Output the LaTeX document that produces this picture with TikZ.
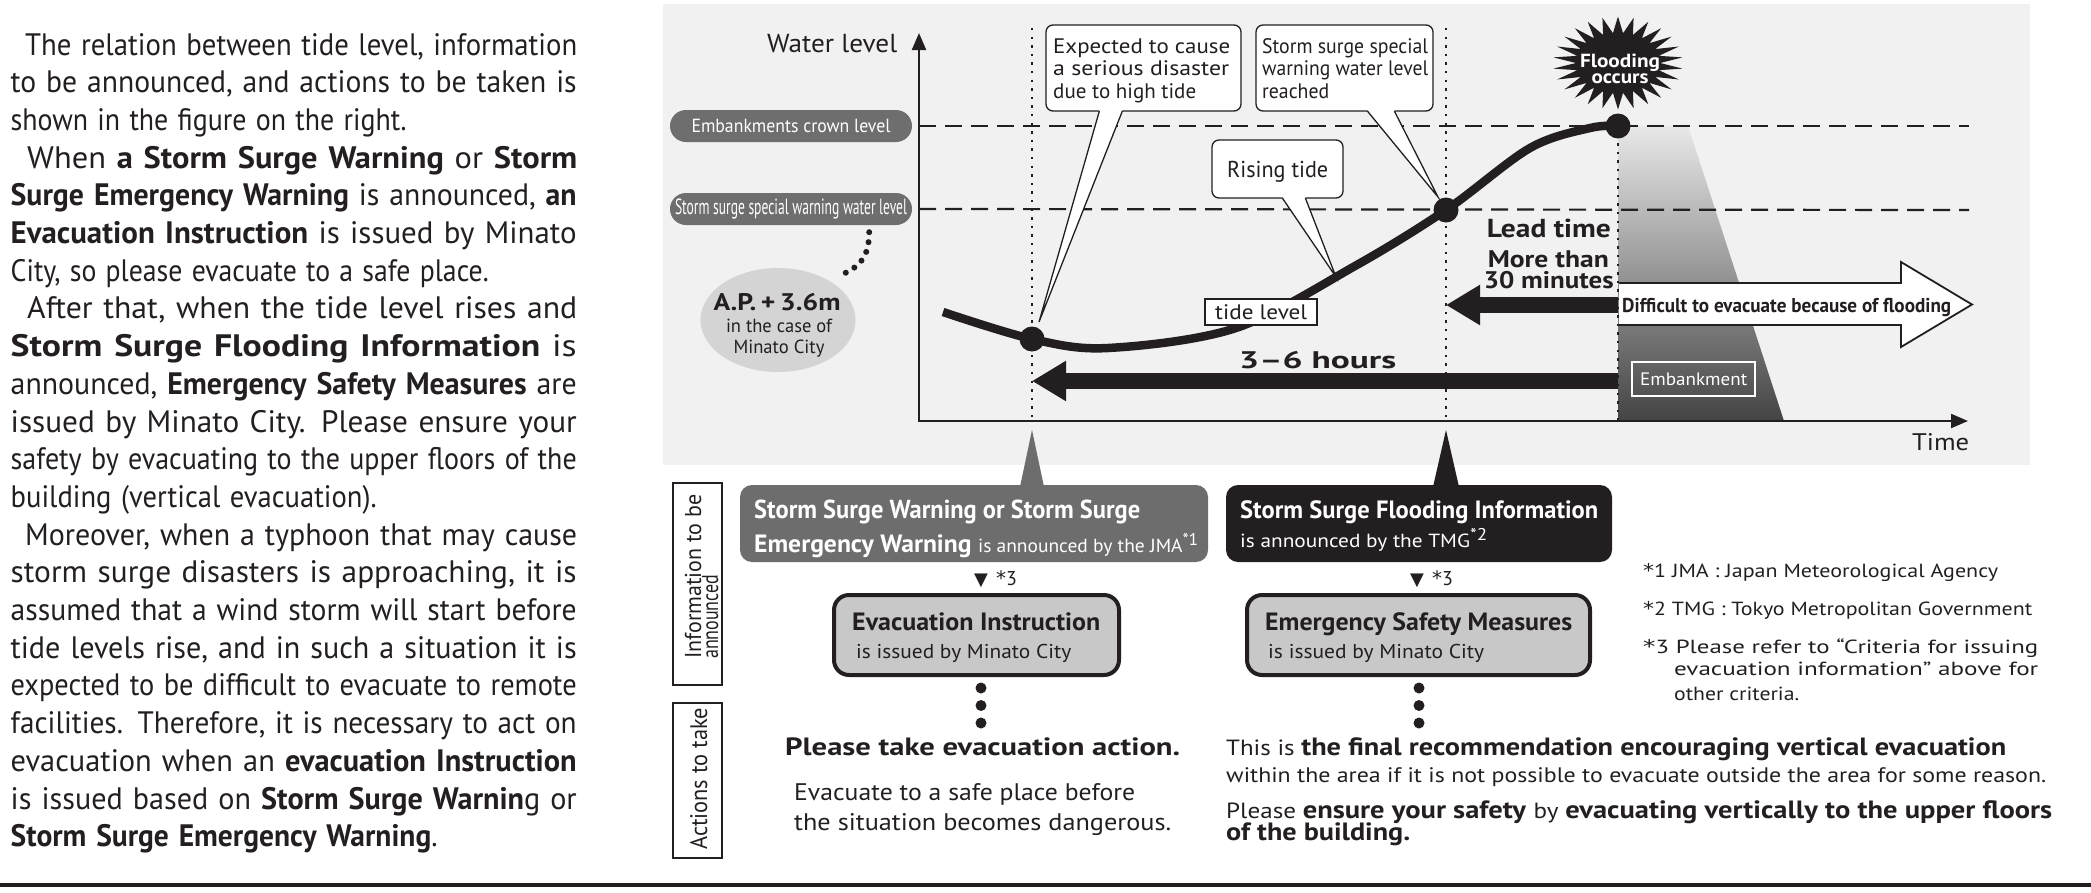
\documentclass[tikz,border=0pt]{standalone}
\usepackage{fontspec}
\usepackage{graphicx}
\setmainfont{PT Sans}
\newfontfamily\symf{DejaVu Sans}
\usetikzlibrary{arrows.meta,shapes.geometric,calc,positioning}

\definecolor{ink}{HTML}{231F20}
\definecolor{chartbg}{HTML}{F1F1F1}
\definecolor{pillgray}{HTML}{6E6E6E}
\definecolor{apgray}{HTML}{D4D4D4}
\definecolor{warngray}{HTML}{6D6D6D}
\definecolor{issuegray}{HTML}{C8C8C8}
\definecolor{shadetop}{HTML}{E8E8E8}
\definecolor{shadebot}{HTML}{444444}

\newcommand{\fsz}[2]{\fontsize{#1}{#2}\selectfont}
\newcommand{\fitw}[2]{\resizebox{#1}{\height}{#2}}
\newcommand{\noteref}[1]{\raisebox{7pt}{\fsz{17}{17}*#1}}

\tikzset{
  txt/.style={inner sep=0pt, anchor=base west, text=ink},
  pill/.style={rounded corners=16pt, fill=pillgray, text=white, minimum width=242pt, minimum height=32pt, inner sep=0pt},
  callbox/.style={draw=ink, line width=1.3pt, fill=white, rounded corners=7pt, inner sep=0pt},
  wedge/.style={draw=ink, line width=1.3pt, line join=miter},
  tidedot/.style={circle, fill=ink, minimum size=25pt, inner sep=0pt},
  guide/.style={ink, line width=2.4pt, dash pattern=on 2.4pt off 6.2pt},
  levelline/.style={ink, line width=2.2pt, dash pattern=on 17pt off 9pt},
  bigarrow/.style={ink, line width=16pt, -{Triangle[length=34pt, width=38pt]}},
  infobox/.style={rounded corners=12pt, minimum height=77pt, inner sep=0pt},
  issuebox/.style={draw=ink, line width=4pt, fill=issuegray, rounded corners=15pt, minimum height=80pt, inner sep=0pt},
  sidebox/.style={draw=ink, line width=1.4pt, minimum width=49pt, inner sep=0pt}
}

\begin{document}
\begin{tikzpicture}[x=1pt, y=-1pt]
\useasboundingbox (0,0) rectangle (2091,892);

% explanation on the left
\node[txt, text width=570pt, align=left, font=\fsz{31}{37.7}] (intro) at (10.5,55) {%
\hspace*{14.5pt}\fitw{552pt}{The relation between tide level, information}\\
\fitw{566pt}{to be announced, and actions to be taken is}\\
\fitw{396pt}{shown in the figure on the right.}\\
\hspace*{16.5pt}\fitw{550pt}{When \textbf{a Storm Surge Warning} or \textbf{Storm}}\\
\fitw{566pt}{\textbf{Surge Emergency Warning} is announced, \textbf{an}}\\
\fitw{566pt}{\textbf{Evacuation Instruction} is issued by Minato}\\
\fitw{478pt}{City, so please evacuate to a safe place.}\\
\hspace*{16.5pt}\fitw{550pt}{After that, when the tide level rises and}\\
\fitw{566pt}{\textbf{Storm Surge Flooding Information} is}\\
\fitw{566pt}{announced, \textbf{Emergency Safety Measures} are}\\
\fitw{566pt}{issued by Minato City. Please ensure your}\\
\fitw{566pt}{safety by evacuating to the upper floors of the}\\
\fitw{366pt}{building (vertical evacuation).}\\
\hspace*{14.5pt}\fitw{552pt}{Moreover, when a typhoon that may cause}\\
\fitw{566pt}{storm surge disasters is approaching, it is}\\
\fitw{566pt}{assumed that a wind storm will start before}\\
\fitw{566pt}{tide levels rise, and in such a situation it is}\\
\fitw{566pt}{expected to be difficult to evacuate to remote}\\
\fitw{566pt}{facilities. Therefore, it is necessary to act on}\\
\fitw{566pt}{evacuation when an \textbf{evacuation Instruction}}\\
\fitw{566pt}{is issued based on \textbf{Storm Surge Warnin}g or}\\
\fitw{427pt}{\textbf{Storm Surge Emergency Warning}.}};

% chart
\fill[chartbg] (663,4) rectangle (2030,465);
\coordinate (origin) at (919,421);
\coordinate (d1) at (1032,339);
\coordinate (d2) at (1446,210);
\coordinate (d3) at (1618,126);
\coordinate (tip1) at ($(d1)+(7,-17)$);
\coordinate (tip2) at ($(d2)+(-8,-13)$);
\coordinate (tip3) at (1336,277);

\shade[top color=shadetop, bottom color=shadebot] (d3) -- (1688,126) -- (1784,421) -- (d3 |- origin) -- cycle;

\node[pill] (crownpill) at (791,126) {\fitw{199pt}{\fsz{19}{19}Embankments crown level}};
\node[pill] (specpill) at (791,209) {\fitw{232pt}{\fsz{22}{22}Storm surge special warning water level}};
\draw[levelline] (crownpill -| origin) -- (1969,126);
\draw[levelline] (specpill -| origin) -- (1969,210);

% difficult arrow
\fill[white] (1619,283) -- (1901,283) -- (1901,262) -- (1972,304.5) -- (1901,347) -- (1901,325) -- (1619,325) -- cycle;
\draw[ink, line width=1.8pt, line join=miter] (1619,283) -- (1901,283) -- (1901,262) -- (1972,304.5) -- (1901,347) -- (1901,325) -- (1619,325);
\node[txt, font=\fsz{20}{20}\bfseries] (difflbl) at (1622,312) {\fitw{329pt}{Difficult to evacuate because of flooding}};

\draw[guide] (d1 |- 0,28) -- (d1 |- origin);
\draw[guide] (d2 |- 0,28) -- (d2 |- origin);
\draw[guide] (d3) -- (d3 |- origin);

\draw[ink, line width=2.2pt, {Triangle[length=17pt,width=14pt]}-{Triangle[length=17pt,width=14pt]}] (919,33) -- (origin) -- (1968,421);
\node[txt, font=\fsz{26}{26}] (wlevel) at (767,52) {\fitw{130pt}{Water level}};
\node[txt, font=\fsz{24}{24}] (timelbl) at (1912,450) {\fitw{57pt}{Time}};

% tide curve
\draw[ink, line width=8.5pt] plot[smooth, tension=0.55] coordinates {(943,312) (d1) (1108,348) (1236,328) (1355,266) (d2) (1530,148) (1590,128) (d3)};
\node[tidedot] (dot1) at (d1) {};
\node[tidedot] (dot2) at (d2) {};
\node[tidedot] (dot3) at (d3) {};

% callouts
\node[callbox, minimum width=195pt, minimum height=86pt] (causebox) at (1143.5,68) {};
\node[callbox, minimum width=177pt, minimum height=86pt] (alertbox) at (1344.5,68) {};
\node[callbox, minimum width=131pt, minimum height=58pt] (risebox) at (1277.5,169) {};
\foreach \bx/\ofa/\ofb/\tip in {causebox/54/77/tip1, alertbox/112/139/tip2, risebox/71/94/tip3} {
  \fill[white] ($(\bx.south west)+(\ofa,-1.5)$) -- (\tip) -- ($(\bx.south west)+(\ofb,-1.5)$) -- cycle;
  \draw[wedge] ($(\bx.south west)+(\ofa,-0.6)$) -- (\tip) -- ($(\bx.south west)+(\ofb,-0.6)$);
}
\node[txt, font=\fsz{21}{21}] (cause1) at (1053,53) {\fitw{177pt}{Expected to cause}};
\node[txt, font=\fsz{21}{21}] (cause2) at (1053,75.5) {\fitw{176pt}{a serious disaster}};
\node[txt, font=\fsz{21}{21}] (cause3) at (1053,98) {\fitw{143pt}{due to high tide}};
\node[txt, font=\fsz{21}{21}] (alert1) at (1262,53) {\fitw{166pt}{Storm surge special}};
\node[txt, font=\fsz{21}{21}] (alert2) at (1262,75.5) {\fitw{166pt}{warning water level}};
\node[txt, font=\fsz{21}{21}] (alert3) at (1262,98) {\fitw{67pt}{reached}};
\node[txt, font=\fsz{23}{23}] (rise1) at (1227,177) {\fitw{101pt}{Rising tide}};

\node[draw=ink, line width=2.5pt, fill=white, minimum width=112pt, minimum height=26pt, inner sep=0pt] (tidebox) at (1261,312) {};
\node[txt, font=\fsz{21}{21}] (tidetxt) at (1215,319) {\fitw{92pt}{tide level}};

% A.P. note
\node[ellipse, fill=apgray, minimum width=155pt, minimum height=104pt, inner sep=0pt] (apnote) at (778,320) {};
\draw[ink, line width=6pt, line cap=round, dash pattern=on 0pt off 10pt] ($(specpill.south east)+(-43,7)$) .. controls (869,258) and (859,267) .. ($(apnote.center)+(63,-45)$);
\node[txt, anchor=base] (aptitle) at (777,310) {\fitw{127pt}{\fsz{24}{24}\bfseries A.P.\,+\,3.6m}};
\node[txt, anchor=base] (apcase) at (779,332) {\fitw{106pt}{\fsz{19}{19}in the case of}};
\node[txt, anchor=base] (apcity) at (779,353) {\fitw{91pt}{\fsz{19}{19}Minato City}};

% lead time and hours
\coordinate (leadtail) at (1618,305);
\coordinate (hourtail) at (1618,381);
\draw[bigarrow] (leadtail) -- (leadtail -| d2);
\draw[bigarrow] (hourtail) -- (hourtail -| d1);
\node[txt, anchor=base east, font=\fsz{26}{26}\bfseries] (leadlbl) at (1611,237) {\fitw{124pt}{Lead time}};
\node[txt, anchor=base east, font=\fsz{24}{24}\bfseries] (morelbl) at (1609,267) {\fitw{121pt}{More than}};
\node[txt, anchor=base east, font=\fsz{24}{24}\bfseries] (minlbl) at (1614,288) {\fitw{130pt}{30 minutes}};
\node[txt, font=\fsz{24}{24}\bfseries] (hourlbl) at (1239,368) {\fitw{157pt}{3--6 hours}};
\node[draw=white, line width=1.8pt, minimum width=123pt, minimum height=34pt, inner sep=0pt] (embank) at (1693.5,379) {};
\node[txt, text=white, font=\fsz{18}{18}] (embanktxt) at (1640,385) {\fitw{107pt}{Embankment}};

% flooding burst
\begin{scope}[shift={(1618,63)}, xscale=1.4]
  \node[star, star points=26, star point ratio=1.55, fill=ink, minimum size=93pt, inner sep=0pt, transform shape] (burst) at (0,0) {};
\end{scope}
\node[txt, anchor=base, text=white, font=\fsz{19}{19}\bfseries] (burst1) at (1620,67) {\fitw{80pt}{Flooding}};
\node[txt, anchor=base, text=white, font=\fsz{19}{19}\bfseries] (burst2) at (1620,83) {\fitw{57pt}{occurs}};

% information to be announced
\node[infobox, fill=warngray, minimum width=468pt] (warnbox) at (974,523.5) {};
\node[infobox, fill=ink, minimum width=386pt] (floodbox) at (1419,523.5) {};
\fill[warngray] ($(d1 |- origin)+(0,9)$) -- ($(d1 |- warnbox.north)+(-12,2)$) -- ($(d1 |- warnbox.north)+(12,2)$) -- cycle;
\fill[ink] ($(d2 |- origin)+(0,9)$) -- ($(d2 |- floodbox.north)+(-13,2)$) -- ($(d2 |- floodbox.north)+(13,2)$) -- cycle;
\node[txt, text=white, font=\fsz{26}{26}\bfseries] (warn1) at (754,518) {\fitw{386pt}{Storm Surge Warning or Storm Surge}};
\node[txt, text=white] (warn2) at (754,552) {\fitw{444pt}{\fsz{25}{25}\bfseries Emergency Warning \fsz{19}{19}\mdseries is announced by the JMA\noteref{1}}};
\node[txt, text=white, font=\fsz{25}{25}\bfseries] (flood1) at (1240,518) {\fitw{358pt}{Storm Surge Flooding Information}};
\node[txt, text=white, font=\fsz{19}{19}] (flood2) at (1240,547) {\fitw{247pt}{is announced by the TMG\noteref{2}}};

\node[txt, font=\fsz{20}{20}] (step1) at (974,585) {{\symf\fsz{18}{18}▼}\hspace{8pt}{\symf *}3};
\node[txt, font=\fsz{20}{20}] (step2) at (1410,585) {{\symf\fsz{18}{18}▼}\hspace{8pt}{\symf *}3};

\node[issuebox, minimum width=285pt] (evacbox) at (976.5,635) {};
\node[issuebox, minimum width=343pt] (safebox) at (1418.5,635) {};
\node[txt, font=\fsz{25}{25}\bfseries] (evac1) at (852,630) {\fitw{248pt}{Evacuation Instruction}};
\node[txt, font=\fsz{20}{20}] (evac2) at (856,658) {\fitw{215pt}{is issued by Minato City}};
\node[txt, font=\fsz{25}{25}\bfseries] (safe1) at (1265,630) {\fitw{307pt}{Emergency Safety Measures}};
\node[txt, font=\fsz{20}{20}] (safe2) at (1268,658) {\fitw{216pt}{is issued by Minato City}};
\foreach \k in {0,1,2} {
  \fill[ink] ($(evacbox.south)+(4.5,11+17.5*\k)$) circle (5.5pt);
  \fill[ink] ($(safebox.south)+(0.5,11+17.5*\k)$) circle (5.5pt);
}

% actions to take
\node[txt, font=\fsz{25}{25}\bfseries] (act1) at (785,755) {\fitw{395pt}{Please take evacuation action.}};
\node[txt, font=\fsz{24}{24}] (act2) at (794,800) {\fitw{341pt}{Evacuate to a safe place before}};
\node[txt, font=\fsz{24}{24}] (act3) at (794,830) {\fitw{377pt}{the situation becomes dangerous.}};
\node[txt] (final1) at (1226,755) {\fitw{780pt}{\fsz{22}{22}This is \fsz{25}{25}\bfseries the final recommendation encouraging vertical evacuation}};
\node[txt, font=\fsz{21}{21}] (final2) at (1226,782) {\fitw{820pt}{within the area if it is not possible to evacuate outside the area for some reason.}};
\node[txt] (final3) at (1226,818) {\fitw{826pt}{\fsz{22}{22}Please \fsz{25}{25}\textbf{ensure your safety} \fsz{22}{22}by \fsz{25}{25}\textbf{evacuating vertically to the upper floors}}};
\node[txt, font=\fsz{25}{25}\bfseries] (final4) at (1226,840) {\fitw{184pt}{of the building.}};

% notes
\node[txt, font=\fsz{19}{19}] (note1) at (1643,577) {\fitw{355pt}{{\symf *}1 JMA : Japan Meteorological Agency}};
\node[txt, font=\fsz{19}{19}] (note2) at (1643,615) {\fitw{389pt}{{\symf *}2 TMG : Tokyo Metropolitan Government}};
\node[txt, font=\fsz{19}{19}] (note3) at (1643,653) {\fitw{395pt}{{\symf *}3 Please refer to “Criteria for issuing}};
\node[txt, font=\fsz{19}{19}] (note3b) at (1674,675) {\fitw{364pt}{evacuation information” above for}};
\node[txt, font=\fsz{19}{19}] (note3c) at (1674,700) {\fitw{125pt}{other criteria.}};

% side labels
\node[sidebox, minimum height=202pt] (infoside) at (697.5,584) {};
\node[sidebox, minimum height=155pt] (actside) at (697.5,780.5) {};
\node[txt, rotate=90, font=\fsz{23}{23}] (infotxt1) at (701,659) {\fitw{164pt}{Information to be}};
\node[txt, rotate=90, font=\fsz{23}{23}] (infotxt2) at (718,659) {\fitw{84pt}{announced}};
\node[txt, rotate=90, font=\fsz{24}{24}] (acttxt) at (707,850) {\fitw{142pt}{Actions to take}};

\draw[ink, line width=3.5pt] (0,885) -- (2091,885);
\end{tikzpicture}
\end{document}
